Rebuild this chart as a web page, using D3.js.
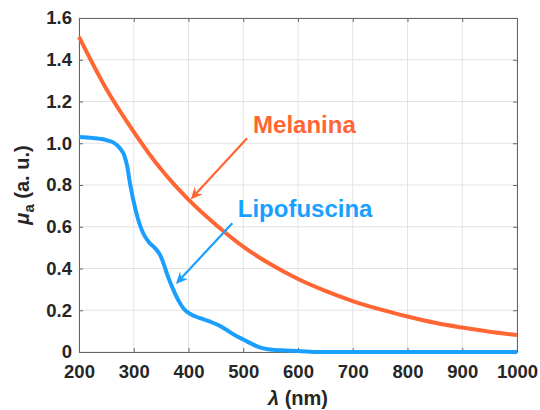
<!DOCTYPE html>
<html><head><meta charset="utf-8">
<script src="https://cdn.jsdelivr.net/npm/d3@7"></script>
<style>body{margin:0;background:#fff}svg{display:block}</style>
</head><body>
<script>
// ---- data ----
const melWavelength = [200,250,300,350,400,450,500,550,600,650,700,750,800,850,900,950,1000];
const melValues     = [1.51,1.26,1.055,0.875,0.73,0.61,0.505,0.42,0.35,0.293,0.244,0.204,0.17,0.14,0.117,0.097,0.081];
const lipWavelength = [200,225,250,265,275,283,288,293,299,308,317,328,338,348,355,362,372,382,392,405,420,440,455,470,485,500,515,530,545,570,600,640,700,800,900,1000];
const lipValues     = [1.03,1.025,1.015,1.0,0.975,0.94,0.89,0.81,0.73,0.635,0.57,0.525,0.5,0.465,0.42,0.365,0.3,0.245,0.205,0.18,0.163,0.145,0.128,0.105,0.08,0.06,0.04,0.022,0.013,0.008,0.005,0,0,0,0,0];
const xTicks = [200,300,400,500,600,700,800,900,1000];
const yTicks = [0,0.2,0.4,0.6,0.8,1.0,1.2,1.4,1.6];
const yTickLabels = ["0","0.2","0.4","0.6","0.8","1.0","1.2","1.4","1.6"];
const seriesNames = ["Melanina","Lipofuscina"];
// annotations in data coords: [textX, textY, arrowFromX, arrowFromY, arrowToX, arrowToY]
const melAnno = [518, 1.049, 507, 1.024, 404, 0.731];
const lipAnno = [490, 0.647, 480, 0.617, 377, 0.326];

const W = 540, H = 410;
const m = {l:79, r:23, t:18, b:58};
const orange = "#FF6633", blue = "#1A9FFF", axisCol = "#666", textCol = "#262626";
const font = "'Liberation Sans', Arial, Helvetica, sans-serif";

const svg = d3.select("body").append("svg").attr("width", W).attr("height", H)
  .style("font-family", font);

const x = d3.scaleLinear().domain([200,1000]).range([m.l, W - m.r]);
const y = d3.scaleLinear().domain([0,1.6]).range([H - m.b, m.t]);

// grid
const g = svg.append("g");
g.selectAll(".gx").data(xTicks).enter().append("line")
  .attr("x1", d=>x(d)).attr("x2", d=>x(d)).attr("y1", y(0)).attr("y2", y(1.6))
  .attr("stroke", "#e3e3e3").attr("stroke-width", 1);
g.selectAll(".gy").data(yTicks).enter().append("line")
  .attr("y1", d=>y(d)).attr("y2", d=>y(d)).attr("x1", x(200)).attr("x2", x(1000))
  .attr("stroke", "#e3e3e3").attr("stroke-width", 1);

// axes
const tickStyle = sel => {
  sel.select(".domain").attr("stroke", axisCol);
  sel.selectAll(".tick line").attr("stroke", axisCol);
  sel.selectAll("text").attr("fill", textCol).style("font-size","18.5px").style("font-weight","bold").style("font-family", font);
};
svg.append("g").attr("transform", `translate(0,${y(0)})`)
  .call(d3.axisBottom(x).tickValues(xTicks).tickSizeInner(-4).tickSizeOuter(0).tickPadding(13).tickFormat(d3.format("d")))
  .call(tickStyle);
svg.append("g").attr("transform", `translate(0,${y(1.6)})`)
  .call(d3.axisTop(x).tickValues(xTicks).tickSizeInner(-4).tickSizeOuter(0).tickFormat(""))
  .call(tickStyle);
svg.append("g").attr("transform", `translate(${x(200)},0)`)
  .call(d3.axisLeft(y).tickValues(yTicks).tickSizeInner(-4).tickSizeOuter(0).tickPadding(7).tickFormat((d,i)=>yTickLabels[i]))
  .call(tickStyle);
svg.append("g").attr("transform", `translate(${x(1000)},0)`)
  .call(d3.axisRight(y).tickValues(yTicks).tickSizeInner(-4).tickSizeOuter(0).tickFormat(""))
  .call(tickStyle);

// lines
const line = d3.line().x(d=>x(d[0])).y(d=>y(d[1])).curve(d3.curveMonotoneX);
svg.append("path").datum(lipWavelength.map((w,i)=>[w, lipValues[i]]))
  .attr("d", line).attr("fill","none").attr("stroke", blue).attr("stroke-width", 4).attr("stroke-linejoin","round");
svg.append("path").datum(melWavelength.map((w,i)=>[w, melValues[i]]))
  .attr("d", line).attr("fill","none").attr("stroke", orange).attr("stroke-width", 4).attr("stroke-linejoin","round");

// annotations
function arrow(a, col, label) {
  const x0 = x(a[2]), y0 = y(a[3]), x1 = x(a[4]), y1 = y(a[5]);
  const ang = Math.atan2(y1 - y0, x1 - x0);
  const L = 12, Wd = 5.5, notch = 8;
  const ux = Math.cos(ang), uy = Math.sin(ang), px = -uy, py = ux;
  const bx = x1 - ux*L, by = y1 - uy*L;
  const nx = x1 - ux*notch, ny = y1 - uy*notch;
  svg.append("line").attr("x1", x0).attr("y1", y0).attr("x2", nx).attr("y2", ny)
    .attr("stroke", col).attr("stroke-width", 2.2);
  svg.append("path")
    .attr("d", `M${x1},${y1}L${bx+px*Wd},${by+py*Wd}L${nx},${ny}L${bx-px*Wd},${by-py*Wd}Z`)
    .attr("fill", col);
  svg.append("text").attr("x", x(a[0])).attr("y", y(a[1])).text(label)
    .attr("fill", col).style("font-size","24px").style("font-weight","bold");
}
arrow(melAnno, orange, seriesNames[0]);
arrow(lipAnno, blue, seriesNames[1]);

// axis labels
const xl = svg.append("text").attr("x", (x(200)+x(1000))/2).attr("y", 405)
  .attr("text-anchor","middle").attr("fill", textCol)
  .style("font-size","20px").style("font-weight","bold");
xl.append("tspan").style("font-style","italic").text("λ");
xl.append("tspan").text(" (nm)");

const yl = svg.append("text").attr("transform", `translate(29,${(y(0)+y(1.6))/2}) rotate(-90)`)
  .attr("text-anchor","middle").attr("fill", textCol)
  .style("font-size","20px").style("font-weight","bold");
yl.append("tspan").style("font-style","italic").text("μ");
yl.append("tspan").attr("dy", 5).style("font-size","15px").text("a");
yl.append("tspan").attr("dy", -5).text(" (a. u.)");
</script>
</body></html>
